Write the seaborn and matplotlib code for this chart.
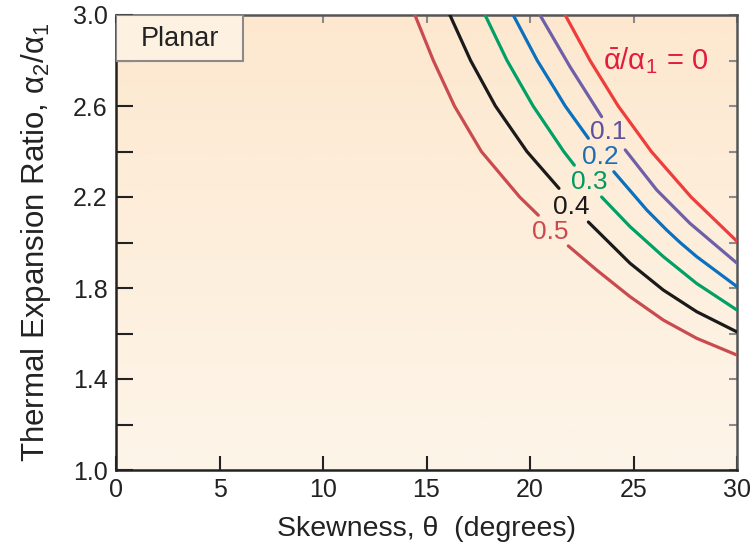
import numpy as np
import pandas as pd
import matplotlib
matplotlib.use("Agg")
import matplotlib.pyplot as plt
from matplotlib import font_manager
from matplotlib.patches import Rectangle
from matplotlib.colors import LinearSegmentedColormap
import seaborn as sns

# ---------------- data ----------------
levels = ["0", "0.1", "0.2", "0.3", "0.4", "0.5"]

theta_0 = [21.7, 22.9, 24.26, 25.86, 27.78, 30.0]
ratio_0 = [3.0, 2.8, 2.6, 2.4, 2.2, 2.005]

theta_01_a = [20.48, 21.93, 23.46]
ratio_01_a = [3.0, 2.773, 2.553]
theta_01_b = [24.6, 26.12, 27.73, 30.0]
ratio_01_b = [2.407, 2.231, 2.084, 1.909]

theta_02_a = [19.19, 20.35, 21.13, 21.7, 22.82]
ratio_02_a = [3.0, 2.8, 2.685, 2.6, 2.458]
theta_02_b = [24.05, 25.64, 26.6, 27.25, 28.05, 30.0]
ratio_02_b = [2.311, 2.143, 2.055, 2.0, 1.938, 1.806]

theta_03_a = [17.83, 18.89, 20.15, 21.63, 22.14]
ratio_03_a = [3.0, 2.8, 2.6, 2.4, 2.34]
theta_03_b = [23.46, 24.83, 26.44, 28.05, 30.0]
ratio_03_b = [2.2, 2.07, 1.938, 1.82, 1.703]

theta_04_a = [16.13, 17.13, 18.33, 19.85, 21.4]
ratio_04_a = [3.0, 2.8, 2.6, 2.4, 2.238]
theta_04_b = [22.82, 24.83, 26.44, 28.05, 30.0]
ratio_04_b = [2.09, 1.909, 1.791, 1.696, 1.607]

theta_05_a = [14.44, 15.33, 16.35, 17.65, 19.5, 20.4]
ratio_05_a = [3.0, 2.8, 2.6, 2.4, 2.2, 2.12]
theta_05_b = [21.85, 23.22, 24.83, 26.44, 28.05, 30.0]
ratio_05_b = [1.985, 1.879, 1.762, 1.659, 1.579, 1.505]

label_theta = [23.77, 23.4, 22.86, 21.98, 20.99]
label_ratio = [2.486, 2.376, 2.264, 2.156, 2.046]
top_label_theta = 26.11
top_label_ratio = 2.80

x_ticks = [0, 5, 10, 15, 20, 25, 30]
y_ticks = [1.0, 1.4, 1.8, 2.2, 2.6, 3.0]
y_minor = [1.2, 1.6, 2.0, 2.4, 2.8]

colors = {"0": "#ee3d3a", "0.1": "#6e5fa9", "0.2": "#0b70bd",
          "0.3": "#00a067", "0.4": "#1a1a1a", "0.5": "#c94b4f"}
label_colors = {"0": "#e31b3d", "0.1": "#5e4f9f", "0.2": "#1f6db5",
                "0.3": "#00995f", "0.4": "#1a1a1a", "0.5": "#c94b4f"}

segments = [
    ("0", "0", theta_0, ratio_0),
    ("0.1", "0.1a", theta_01_a, ratio_01_a), ("0.1", "0.1b", theta_01_b, ratio_01_b),
    ("0.2", "0.2a", theta_02_a, ratio_02_a), ("0.2", "0.2b", theta_02_b, ratio_02_b),
    ("0.3", "0.3a", theta_03_a, ratio_03_a), ("0.3", "0.3b", theta_03_b, ratio_03_b),
    ("0.4", "0.4a", theta_04_a, ratio_04_a), ("0.4", "0.4b", theta_04_b, ratio_04_b),
    ("0.5", "0.5a", theta_05_a, ratio_05_a), ("0.5", "0.5b", theta_05_b, ratio_05_b),
]
rows = []
for lvl, seg, th, ra in segments:
    for i, (t, r) in enumerate(zip(th, ra)):
        rows.append({"level": lvl, "seg": seg, "order": i, "theta": t, "ratio": r})
df = pd.DataFrame(rows)

# ---------------- figure ----------------
sns.set_theme(style="ticks")
plt.rcParams["font.family"] = ["Liberation Sans", "DejaVu Sans"]
plt.rcParams["mathtext.fontset"] = "custom"
plt.rcParams["mathtext.rm"] = "Liberation Sans"
plt.rcParams["mathtext.it"] = "Liberation Sans"
plt.rcParams["mathtext.sf"] = "Liberation Sans"

fig = plt.figure(figsize=(7.54, 5.48), dpi=100)
ax = fig.add_axes([116 / 754, 1 - 470 / 548, (737 - 116) / 754, (470 - 15) / 548])

# background gradient
cmap = LinearSegmentedColormap.from_list("bg", ["#fdf5e9", "#fde8cf"])
grad = np.linspace(0, 1, 256).reshape(-1, 1)
ax.imshow(grad, extent=[0, 30, 1.0, 3.0], origin="lower", aspect="auto",
          cmap=cmap, zorder=0)

sns.lineplot(data=df, x="theta", y="ratio", hue="level", units="seg",
             estimator=None, sort=False, palette=colors, hue_order=levels,
             linewidth=2.3, legend=False, ax=ax, zorder=3)

for lvl, t, r in zip(levels[1:], label_theta, label_ratio):
    ax.text(t, r, lvl, color=label_colors[lvl], fontsize=19,
            ha="center", va="center", zorder=4)
ax.text(top_label_theta, top_label_ratio,
        r"$\bar{\mathsf{\alpha}}/\mathsf{\alpha}_{\mathsf{1}}\,\mathsf{=}\,\mathsf{0}$",
        color=label_colors["0"], fontsize=21, ha="center", va="center", zorder=4)

ax.set_xlim(0, 30)
ax.set_ylim(1.0, 3.0)
ax.set_xticks(x_ticks)
ax.set_xticklabels([str(v) for v in x_ticks])
ax.set_yticks(y_ticks)
ax.set_yticklabels([f"{v:.1f}" for v in y_ticks])
ax.set_yticks(y_minor, minor=True)
ax.tick_params(axis="y", which="both", direction="in", length=12, width=1.5,
               color="#222222", labelsize=18, pad=6, labelcolor="#222222")
ax.tick_params(axis="x", which="both", direction="in", length=10, width=1.5,
               color="#222222", labelsize=18, pad=6, labelcolor="#222222")

for s in ["left", "bottom"]:
    ax.spines[s].set_linewidth(1.8)
    ax.spines[s].set_color("#222222")
for s in ["top", "right"]:
    ax.spines[s].set_linewidth(1.8)
    ax.spines[s].set_color("#555555")
    ax.spines[s].set_visible(True)

secx = ax.secondary_xaxis("top")
secx.set_xticks(x_ticks)
secx.tick_params(direction="in", length=6, width=1.5, color="#8a8a8a", labeltop=False)
secx.spines["top"].set_visible(False)
secy = ax.secondary_yaxis("right")
secy.set_yticks(y_ticks + y_minor)
secy.tick_params(direction="in", length=6, width=1.5, color="#8a8a8a", labelright=False)
secy.spines["right"].set_visible(False)

ax.set_xlabel("Skewness, θ  (degrees)", fontsize=20.5,
              color="#222222", labelpad=10)
ax.set_ylabel("Thermal Expansion Ratio, α$_2$/α$_1$", fontsize=22.5,
              color="#222222", labelpad=14)

# "Planar" box
ax.add_patch(Rectangle((0, 0.90), 0.205, 0.10, transform=ax.transAxes,
                       facecolor="#fdf1e2", edgecolor="#8a8a8a", linewidth=1.5, zorder=5))
ax.text(0.1025, 0.948, "Planar", transform=ax.transAxes, fontsize=19.5,
        ha="center", va="center", color="#222222", zorder=6)

fig.savefig("out.png", dpi=100)
